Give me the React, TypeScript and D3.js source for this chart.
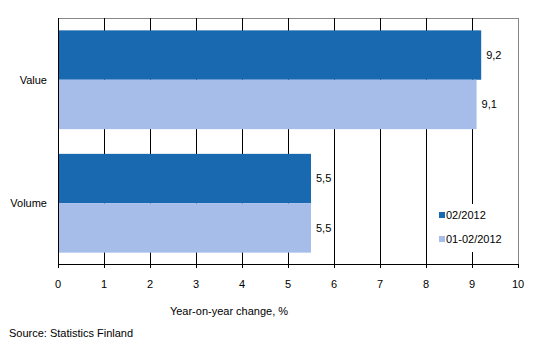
import React from "react";
import * as d3 from "d3";

const categories = ["Value", "Volume"];
const seriesNames = ["02/2012", "01-02/2012"];
const series1 = [9.2, 5.5];
const series2 = [9.1, 5.5];
const valueLabels1 = ["9,2", "5,5"];
const valueLabels2 = ["9,1", "5,5"];
const xTicks = [0, 1, 2, 3, 4, 5, 6, 7, 8, 9, 10];
const colors = ["#1969b0", "#a7bde9"];

const W = 533;
const H = 360;
const left = 58;
const right = 518;
const top = 18;
const bottom = 265;
const font = "Liberation Sans, Arial, sans-serif";

export default function App() {
  const x = d3.scaleLinear().domain([0, 10]).range([left, right]);
  const y = d3.scaleBand<string>().domain(categories).range([top, bottom]).paddingInner(0.2).paddingOuter(0.1);
  const sub = d3.scaleBand<number>().domain([0, 1]).range([0, y.bandwidth()]);
  const seriesVals = [series1, series2];
  const seriesLabels = [valueLabels1, valueLabels2];

  return (
    <svg width={W} height={H} style={{ position: "absolute", left: 0, top: 0 }} fontFamily={font}>
      <rect x={0} y={0} width={W} height={H} fill="#fff" />
      {/* top & right border */}
      <line x1={left} x2={right} y1={top + 0.5} y2={top + 0.5} stroke="#888" />
      <line x1={right + 0.5} x2={right + 0.5} y1={top} y2={bottom} stroke="#888" />
      {/* gridlines */}
      {xTicks.slice(1, -1).map((t) => (
        <line key={t} x1={Math.round(x(t)) + 0.5} x2={Math.round(x(t)) + 0.5} y1={top} y2={bottom} stroke="#000" />
      ))}
      {/* bars */}
      {categories.map((c, i) =>
        seriesVals.map((vals, s) => (
          <rect
            key={c + s}
            x={x(0)}
            y={(y(c) as number) + (sub(s) as number)}
            width={x(vals[i]) - x(0)}
            height={sub.bandwidth()}
            fill={colors[s]}
          />
        ))
      )}
      {/* value labels */}
      {categories.map((c, i) =>
        seriesVals.map((vals, s) => (
          <text
            key={"l" + c + s}
            x={x(vals[i]) + 5}
            y={(y(c) as number) + (sub(s) as number) + sub.bandwidth() / 2}
            dy="0.35em"
            fontSize={11}
            fill="#000"
          >
            {seriesLabels[s][i]}
          </text>
        ))
      )}
      {/* legend */}
      <rect x={435} y={204} width={80} height={48} fill="#fff" />
      {seriesNames.map((n, s) => (
        <g key={n}>
          <rect x={439} y={212 + s * 24} width={6} height={6} fill={colors[s]} />
          <text x={446} y={215 + s * 24} dy="0.35em" fontSize={11} fill="#000">
            {n}
          </text>
        </g>
      ))}
      {/* axes */}
      <line x1={left + 0.5} x2={left + 0.5} y1={top} y2={bottom} stroke="#000" />
      <line x1={left} x2={right + 1} y1={bottom - 0.5} y2={bottom - 0.5} stroke="#000" />
      {xTicks.map((t) => (
        <g key={"t" + t}>
          <line x1={Math.round(x(t)) + 0.5} x2={Math.round(x(t)) + 0.5} y1={bottom} y2={bottom + 3} stroke="#000" />
          <text x={x(t)} y={284} dy="0.35em" textAnchor="middle" fontSize={11} fill="#000">
            {t}
          </text>
        </g>
      ))}
      {categories.map((c) => (
        <text key={"c" + c} x={47} y={(y(c) as number) + y.bandwidth() / 2} dy="0.35em" textAnchor="end" fontSize={11} fill="#000">
          {c}
        </text>
      ))}
      <text x={229} y={311} dy="0.35em" textAnchor="middle" fontSize={11} fill="#000">
        Year-on-year change, %
      </text>
      <text x={9} y={333} dy="0.35em" fontSize={11} fill="#000">
        Source: Statistics Finland
      </text>
    </svg>
  );
}
